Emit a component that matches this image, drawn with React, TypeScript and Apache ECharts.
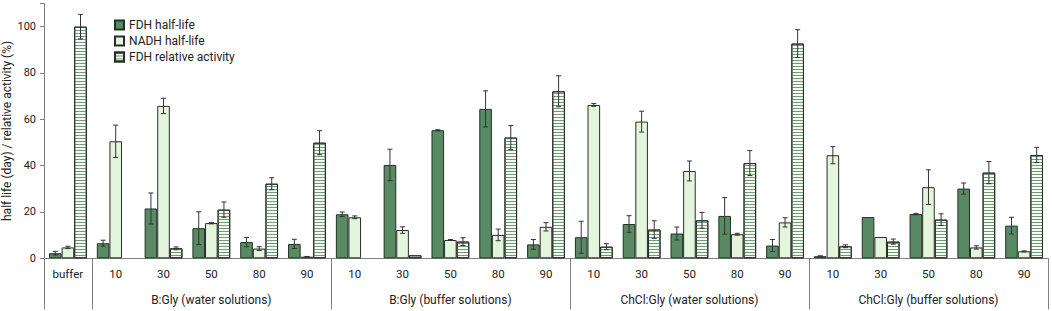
import React, { useEffect, useRef } from "react";
import * as echarts from "echarts";

const categories = [
  "buffer",
  "10", "30", "50", "80", "90",
  "10", "30", "50", "80", "90",
  "10", "30", "50", "80", "90",
  "10", "30", "50", "80", "90",
];

const groupNames = ["", "B:Gly (water solutions)", "B:Gly (buffer solutions)", "ChCl:Gly (water solutions)", "ChCl:Gly (buffer solutions)"];
const groupSizes = [1, 5, 5, 5, 5];

const fdhHalfLife = [2.2, 6.5, 21.5, 13.0, 7.0, 6.2, 19.0, 40.3, 55.3, 64.5, 6.0, 9.1, 14.8, 10.7, 18.3, 5.5, 0.9, 17.8, 19.1, 30.1, 14.1];
const fdhHalfLifeErr = [0.8, 1.3, 6.7, 7.1, 2.0, 2.0, 1.0, 6.8, 0.2, 7.8, 2.1, 6.9, 3.6, 2.8, 7.9, 2.6, 0.2, 0, 0.3, 2.4, 3.6];
const nadhHalfLife = [4.7, 50.5, 65.8, 15.2, 4.2, 0.7, 17.7, 12.2, 7.9, 10.1, 13.6, 66.2, 59.0, 37.7, 10.4, 15.5, 44.5, 9.2, 30.7, 4.7, 3.0];
const nadhHalfLifeErr = [0.5, 7.0, 3.3, 0.3, 0.8, 0.1, 0.6, 1.4, 0.2, 2.5, 1.8, 0.6, 4.5, 4.3, 0.4, 2.0, 3.7, 0, 7.5, 0.7, 0.2];
const fdhRelActivity = [100, 0, 4.3, 21.0, 32.2, 49.9, 0, 1.3, 7.2, 52.1, 72.1, 5.0, 12.4, 16.4, 41.1, 92.7, 5.2, 7.2, 16.7, 37.0, 44.6];
const fdhRelActivityErr = [5.3, 0, 0.6, 3.3, 2.6, 5.2, 0, 0, 1.7, 5.2, 6.7, 1.3, 3.8, 3.4, 5.4, 6.0, 0.6, 1.1, 2.5, 4.8, 3.3];

const seriesNames = ["FDH half-life", "NADH half-life", "FDH relative activity"];
const yTicks = [0, 20, 40, 60, 80, 100];

const FONT = "Roboto";
const BAR_W = 12.6;

export default function App() {
  const ref = useRef<HTMLDivElement>(null);

  useEffect(() => {
    document.body.style.margin = "0";
    if (!ref.current) return;
    const chart = echarts.init(ref.current, null, { renderer: "svg" });

    const groupLabelArr: string[] = categories.map(() => "");
    const boundaries: number[] = [];
    let start = 0;
    groupSizes.forEach((size, gi) => {
      boundaries.push(start);
      if (groupNames[gi]) groupLabelArr[start + Math.floor(size / 2)] = groupNames[gi];
      start += size;
    });

    const values = [fdhHalfLife, nadhHalfLife, fdhRelActivity];
    const errs = [fdhHalfLifeErr, nadhHalfLifeErr, fdhRelActivityErr];

    const errSeries = values.map((vals, si) => ({
      type: "custom",
      name: seriesNames[si] + " err",
      xAxisIndex: 0,
      yAxisIndex: 0,
      silent: true,
      z: 10,
      data: vals.map((v, i) => [i, v, errs[si][i]]),
      renderItem: (params: any, api: any) => {
        const idx = api.value(0);
        const v = api.value(1);
        const e = api.value(2);
        if (!e) return null;
        const c = api.coord([idx, v]);
        const x = c[0] + (si - 1) * BAR_W;
        const yTop = api.coord([idx, v + e])[1];
        const yBot = api.coord([idx, Math.max(v - e, 0)])[1];
        const cap = 2.5;
        const st = { stroke: "#333333", lineWidth: 1 };
        return {
          type: "group",
          children: [
            { type: "line", shape: { x1: x, y1: yTop, x2: x, y2: yBot }, style: st },
            { type: "line", shape: { x1: x - cap, y1: yTop, x2: x + cap, y2: yTop }, style: st },
            { type: "line", shape: { x1: x - cap, y1: yBot, x2: x + cap, y2: yBot }, style: st },
          ],
        };
      },
    }));

    const nz = (arr: number[]) => arr.map((v) => (v === 0 ? null : v));

    chart.setOption({
      animation: false,
      textStyle: { fontFamily: FONT },
      grid: { left: 44, right: 4, top: 3.5, bottom: 52.7, containLabel: false, outerBoundsMode: "none" },
      legend: {
        orient: "vertical",
        left: 109,
        top: 14,
        itemWidth: 9,
        itemHeight: 9,
        itemGap: 4,
        icon: "rect",
        data: seriesNames,
        textStyle: { fontFamily: FONT, fontSize: 12, color: "#222" },
      },
      xAxis: [
        {
          type: "category",
          data: categories,
          axisLine: { show: true, lineStyle: { color: "#7f7f7f", width: 1 } },
          axisTick: { show: false },
          axisLabel: { interval: 0, margin: 10, fontSize: 11.5, color: "#222", fontFamily: FONT },
        },
        {
          type: "category",
          data: groupLabelArr,
          position: "bottom",
          axisLine: { show: false },
          axisTick: {
            show: true,
            length: 51,
            interval: (index: number) => boundaries.includes(index),
            lineStyle: { color: "#7f7f7f", width: 1 },
          },
          axisLabel: { interval: 0, margin: 36, fontSize: 12, color: "#222", fontFamily: FONT },
        },
      ],
      yAxis: {
        type: "value",
        min: 0,
        max: 110,
        interval: 20,
        name: "half life (day) / relative activity (%)",
        nameLocation: "middle",
        nameGap: 31,
        nameMoveOverlap: false,
        nameTextStyle: { fontSize: 12, color: "#222", fontFamily: FONT },
        axisLine: { show: true, lineStyle: { color: "#7f7f7f", width: 1 } },
        axisTick: { show: true, length: 4, lineStyle: { color: "#7f7f7f" } },
        splitLine: { show: false },
        axisLabel: {
          margin: 8,
          fontSize: 11,
          color: "#222",
          fontFamily: FONT,
          formatter: (v: number) => (yTicks.includes(v) ? String(v) : ""),
        },
      },
      series: [
        {
          type: "bar",
          name: seriesNames[0],
          data: nz(fdhHalfLife),
          barWidth: BAR_W,
          barGap: "0%",
          itemStyle: { color: "#5a8a63", borderColor: "#1f3324", borderWidth: 1 },
        },
        {
          type: "bar",
          name: seriesNames[1],
          data: nz(nadhHalfLife),
          barWidth: BAR_W,
          barGap: "0%",
          itemStyle: { color: "#e3f5dc", borderColor: "#2b2b2b", borderWidth: 1 },
        },
        {
          type: "bar",
          name: seriesNames[2],
          data: nz(fdhRelActivity),
          barWidth: BAR_W,
          barGap: "0%",
          itemStyle: {
            color: "#f6fbf4",
            borderColor: "#2b2b2b",
            borderWidth: 1,
            decal: {
              symbol: "rect",
              symbolSize: 1,
              color: "#6d9b75",
              dashArrayX: [1, 0],
              dashArrayY: [1, 2],
              rotation: 0,
            },
          },
        },
        ...errSeries,
      ],
    });

    return () => chart.dispose();
  }, []);

  return <div ref={ref} style={{ width: 1052, height: 311 }} />;
}
